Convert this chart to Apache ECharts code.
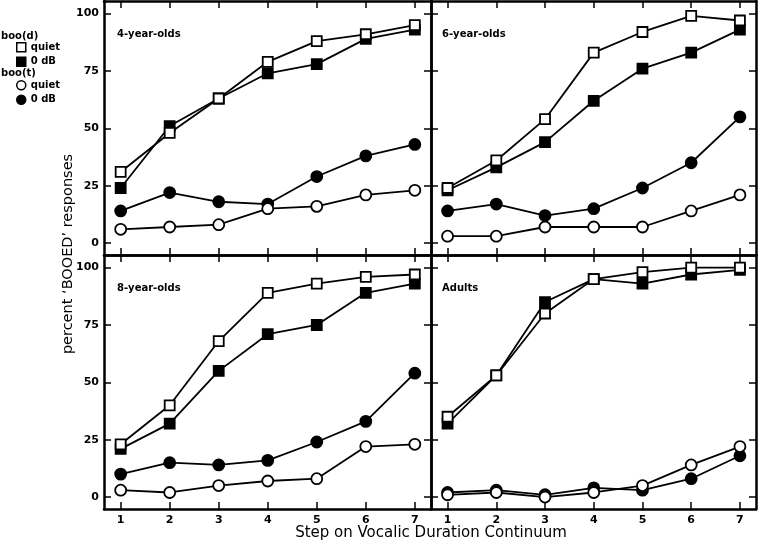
<!DOCTYPE html>
<html>
<head>
<meta charset="utf-8">
<script src="https://cdn.jsdelivr.net/npm/echarts@6/dist/echarts.min.js"></script>
<style>
  html, body { margin: 0; padding: 0; background: #fff; }
  #chart { width: 758px; height: 543px; }
</style>
</head>
<body>
<div id="chart"></div>
<script>
// continuum steps and tick values
var steps = [1, 2, 3, 4, 5, 6, 7];
var yTicks = [0, 25, 50, 75, 100];
var panelNames = ["4-year-olds", "6-year-olds", "8-year-olds", "Adults"];

// percent 'BOOED' responses, one row per panel (4yo, 6yo, 8yo, adults)
var booDQuiet = [
    [31, 48, 63, 79, 88, 91, 95],
    [24, 36, 54, 83, 92, 99, 97],
    [23, 40, 68, 89, 93, 96, 97],
    [35, 53, 80, 95, 98, 100, 100]
];
var booD0dB = [
    [24, 51, 63, 74, 78, 89, 93],
    [23, 33, 44, 62, 76, 83, 93],
    [21, 32, 55, 71, 75, 89, 93],
    [32, 53, 85, 95, 93, 97, 99]
];
var booTQuiet = [
    [6, 7, 8, 15, 16, 21, 23],
    [3, 3, 7, 7, 7, 14, 21],
    [3, 2, 5, 7, 8, 22, 23],
    [1, 2, 0, 2, 5, 14, 22]
];
var booT0dB = [
    [14, 22, 18, 17, 29, 38, 43],
    [14, 17, 12, 15, 24, 35, 55],
    [10, 15, 14, 16, 24, 33, 54],
    [2, 3, 1, 4, 3, 8, 18]
];

var font = "DejaVu Sans";
var grids = [
    { left: 104, top: 1, width: 327, height: 254 },
    { left: 431, top: 1, width: 325, height: 254 },
    { left: 104, top: 255, width: 327, height: 254 },
    { left: 431, top: 255, width: 325, height: 254 }
];

var chart = echarts.init(document.getElementById("chart"));

var tickStyle = { color: "#000", width: 1.5 };
var frameStyle = { color: "#000", width: 2.5 };
var xAxes = [], yAxes = [], series = [], texts = [];

grids.forEach(function (g, i) {
    var bottomRow = i >= 2, leftCol = i % 2 === 0;
    ["bottom", "top"].forEach(function (pos) {
        xAxes.push({
            type: "value", gridIndex: i, position: pos,
            min: 0.66, max: 7.33,
            axisLine: { show: true, onZero: false, lineStyle: frameStyle },
            axisTick: { show: true, inside: true, length: 7, lineStyle: tickStyle, customValues: steps },
            axisLabel: {
                show: pos === "bottom" && bottomRow, customValues: steps, margin: 6,
                color: "#000", fontFamily: font, fontWeight: "bold", fontSize: 11
            },
            splitLine: { show: false }
        });
    });
    ["left", "right"].forEach(function (pos) {
        yAxes.push({
            type: "value", gridIndex: i, position: pos,
            min: -5.2, max: 105.5,
            axisLine: { show: true, onZero: false, lineStyle: frameStyle },
            axisTick: { show: true, inside: true, length: 7, lineStyle: tickStyle, customValues: yTicks },
            axisLabel: {
                show: pos === "left" && leftCol, customValues: yTicks, margin: 5,
                color: "#000", fontFamily: font, fontWeight: "bold", fontSize: 11
            },
            splitLine: { show: false }
        });
    });

    var groups = [
        { name: "boo(d) 0 dB", data: booD0dB[i], symbol: "rect", fill: "#000" },
        { name: "boo(d) quiet", data: booDQuiet[i], symbol: "rect", fill: "#fff" },
        { name: "boo(t) 0 dB", data: booT0dB[i], symbol: "circle", fill: "#000" },
        { name: "boo(t) quiet", data: booTQuiet[i], symbol: "circle", fill: "#fff" }
    ];
    groups.forEach(function (s) {
        series.push({
            name: s.name, type: "line",
            xAxisIndex: i * 2, yAxisIndex: i * 2,
            data: steps.map(function (x, k) { return [x, s.data[k]]; }),
            symbol: s.symbol, symbolSize: s.symbol === "rect" ? 10 : 11,
            showSymbol: true,
            lineStyle: { color: "#000", width: 1.8 },
            itemStyle: { color: s.fill, borderColor: "#000", borderWidth: 1.8 },
            animation: false
        });
    });

    texts.push({
        type: "text", left: g.left + (leftCol ? 13 : 11), top: g.top + 28,
        style: { text: panelNames[i], fill: "#000", font: "bold 10px " + font }
    });
});

var legendText = { color: "#000", fontFamily: font, fontWeight: "bold", fontSize: 10 };
function stripGroup(name) { return name.split(" ").slice(1).join(" "); }

chart.setOption({
    animation: false,
    grid: grids,
    xAxis: xAxes,
    yAxis: yAxes,
    legend: [
        {
            orient: "vertical", left: 16, top: 42, padding: 0, itemWidth: 9, itemHeight: 9, itemGap: 4,
            textStyle: legendText, formatter: stripGroup,
            data: [
                { name: "boo(d) quiet", icon: "rect", itemStyle: { color: "#fff", borderColor: "#000", borderWidth: 1.5 } },
                { name: "boo(d) 0 dB", icon: "rect", itemStyle: { color: "#000", borderColor: "#000", borderWidth: 1.5 } }
            ]
        },
        {
            orient: "vertical", left: 16, top: 80, padding: 0, itemWidth: 9, itemHeight: 9, itemGap: 4,
            textStyle: legendText, formatter: stripGroup,
            data: [
                { name: "boo(t) quiet", icon: "circle", itemStyle: { color: "#fff", borderColor: "#000", borderWidth: 1.5 } },
                { name: "boo(t) 0 dB", icon: "circle", itemStyle: { color: "#000", borderColor: "#000", borderWidth: 1.5 } }
            ]
        }
    ],
    graphic: texts.concat([
        { type: "text", left: 1, top: 31, style: { text: "boo(d)", fill: "#000", font: "bold 10px " + font } },
        { type: "text", left: 1, top: 68, style: { text: "boo(t)", fill: "#000", font: "bold 10px " + font } },
        {
            type: "text", x: 68, y: 254, rotation: Math.PI / 2,
            style: { text: "percent \u2018BOOED\u2019 responses", fill: "#000", font: "14.5px " + font, align: "center", verticalAlign: "middle" }
        },
        {
            type: "text", x: 431, y: 533,
            style: { text: "Step on Vocalic Duration Continuum", fill: "#000", font: "15px " + font, align: "center", verticalAlign: "middle" }
        }
    ]),
    series: series
});
</script>
</body>
</html>
